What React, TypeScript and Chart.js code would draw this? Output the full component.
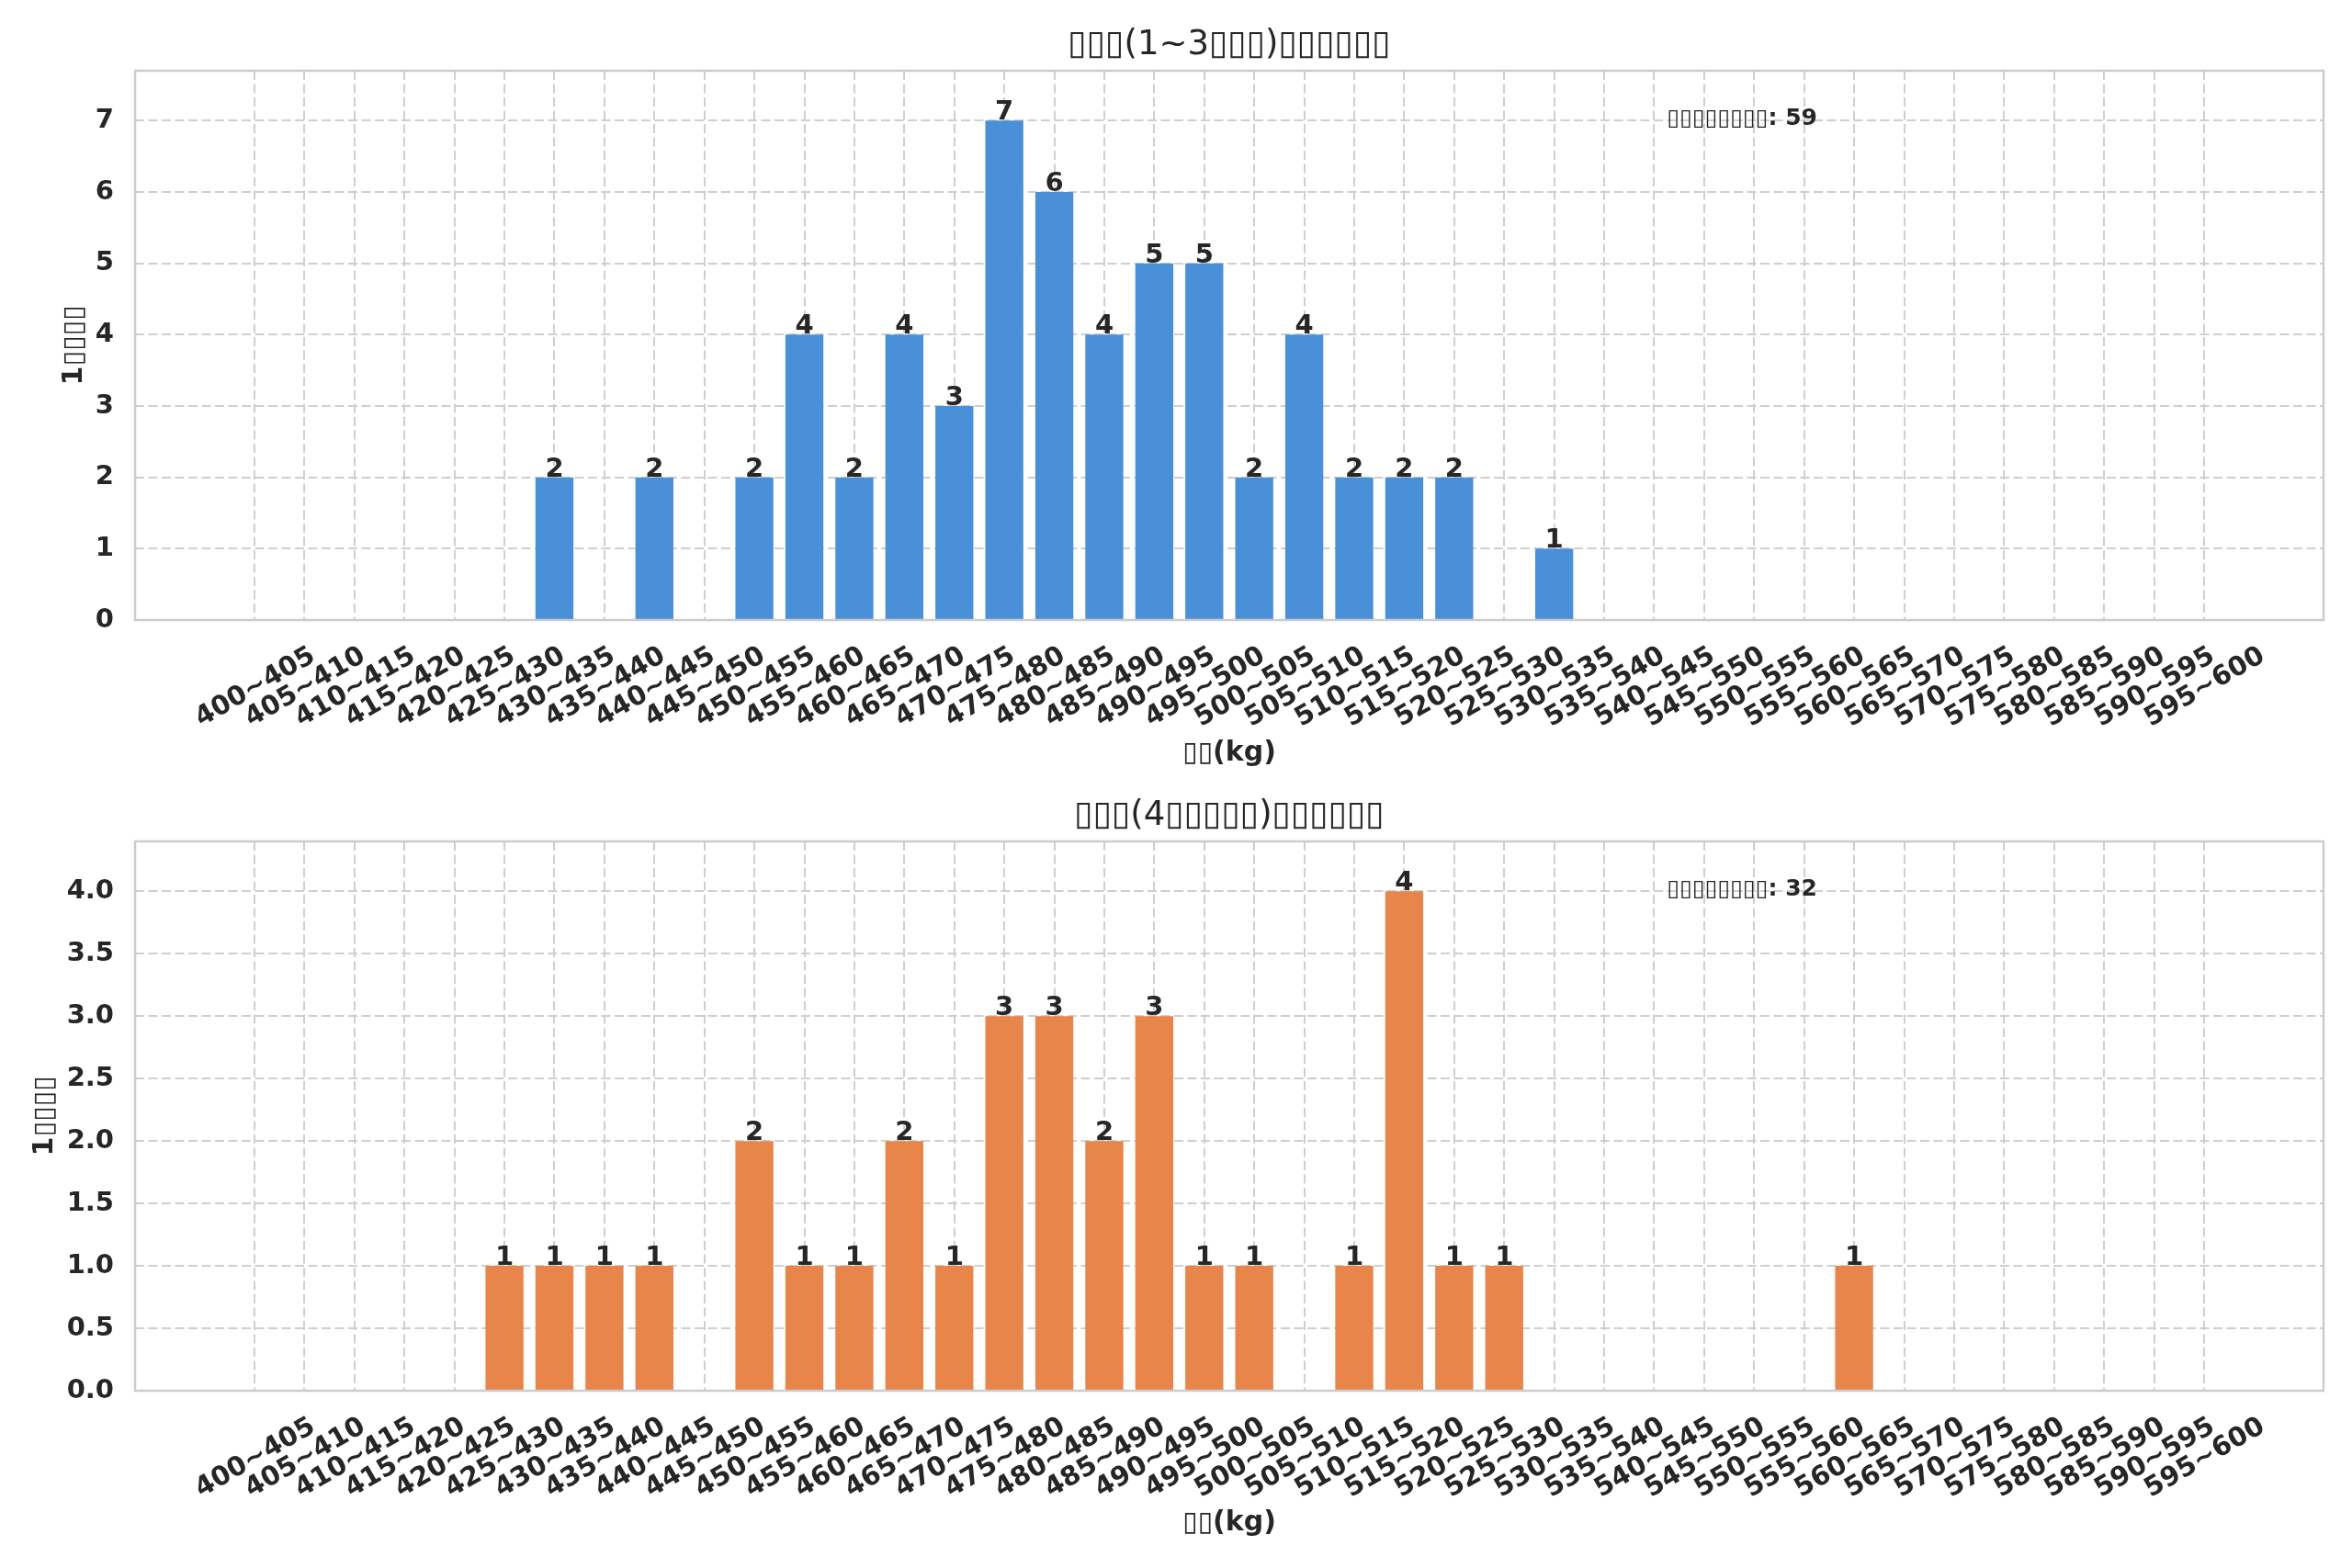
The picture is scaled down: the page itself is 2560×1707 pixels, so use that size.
import { useEffect, useRef } from "react";
import { Chart, registerables } from "chart.js";

Chart.register(...registerables);

const FONT = "'DejaVu Sans', sans-serif";
const TEXT = "#262626";
const GRID = "#cfcfcf";

// 5kg bins
const weightBins = [
  "400~405", "405~410", "410~415", "415~420", "420~425", "425~430",
  "430~435", "435~440", "440~445", "445~450", "450~455", "455~460",
  "460~465", "465~470", "470~475", "475~480", "480~485", "485~490",
  "490~495", "495~500", "500~505", "505~510", "510~515", "515~520",
  "520~525", "525~530", "530~535", "535~540", "540~545", "545~550",
  "550~555", "555~560", "560~565", "565~570", "570~575", "575~580",
  "580~585", "585~590", "590~595", "595~600",
];

const countsYoung = [
  0, 0, 0, 0, 0, 0, 2, 0, 2, 0, 2, 4, 2, 4, 3, 7, 6, 4, 5, 5,
  2, 4, 2, 2, 2, 0, 1, 0, 0, 0, 0, 0, 0, 0, 0, 0, 0, 0, 0, 0,
];

const countsOld = [
  0, 0, 0, 0, 0, 1, 1, 1, 1, 0, 2, 1, 1, 2, 1, 3, 3, 2, 3, 1,
  1, 0, 1, 4, 1, 1, 0, 0, 0, 0, 0, 0, 1, 0, 0, 0, 0, 0, 0, 0,
];

const titleYoung = "\u25AF\u25AF\u25AF(1~3\u25AF\u25AF\u25AF)\u25AF\u25AF\u25AF\u25AF\u25AF\u25AF";
const titleOld = "\u25AF\u25AF\u25AF(4\u25AF\u25AF\u25AF\u25AF\u25AF)\u25AF\u25AF\u25AF\u25AF\u25AF\u25AF";
const yTitle = "1\u25AF\u25AF\u25AF\u25AF";
const xTitle = "\u25AF\u25AF(kg)";
const totalLabel = "\u25AF\u25AF\u25AF\u25AF\u25AF\u25AF\u25AF\u25AF";

interface PanelProps {
  title: string;
  counts: number[];
  color: string;
  yMax: number;
  yStep: number;
  yDecimals: number;
  yTitlePad: number;
  height: number;
  xAxisHeight: number;
  xTitlePad: number;
}

function HistogramPanel(props: PanelProps) {
  const canvasRef = useRef<HTMLCanvasElement>(null);

  useEffect(() => {
    const ctx = canvasRef.current?.getContext("2d");
    if (!ctx) return;
    const { counts } = props;
    const total = counts.reduce((a, b) => a + b, 0);
    const tickFont = { family: FONT, size: 29, weight: "bold" as const, lineHeight: 1.2 };
    const axisTitleFont = { family: FONT, size: 30, weight: "bold" as const, lineHeight: 1.2 };

    const overlay = {
      id: "overlay",
      afterDatasetsDraw(chart: Chart) {
        const c = chart.ctx;
        const a = chart.chartArea;
        c.save();
        c.strokeStyle = "#cccccc";
        c.lineWidth = 2.5;
        c.strokeRect(a.left, a.top, a.right - a.left, a.bottom - a.top);

        c.fillStyle = TEXT;
        c.font = `bold 29px ${FONT}`;
        c.textAlign = "center";
        c.textBaseline = "alphabetic";
        chart.getDatasetMeta(0).data.forEach((bar: any, i: number) => {
          if (counts[i] > 0) c.fillText(String(counts[i]), bar.x, bar.y - 1);
        });

        c.font = `bold 25px ${FONT}`;
        c.textAlign = "left";
        c.textBaseline = "middle";
        c.fillText(
          `${totalLabel}: ${total}`,
          a.left + 0.7 * (a.right - a.left),
          a.top + 0.087 * (a.bottom - a.top),
        );

        c.font = `37px ${FONT}`;
        c.textAlign = "center";
        c.fillText(props.title, (a.left + a.right) / 2, 49.5);
        c.restore();
      },
    };

    const chart = new Chart(ctx, {
      type: "bar",
      data: {
        datasets: [
          {
            data: counts.map((v, i) => ({ x: i, y: v })),
            backgroundColor: props.color,
            borderWidth: 0,
            categoryPercentage: 1,
            barPercentage: 0.76,
          },
        ],
      },
      options: {
        responsive: false,
        animation: false,
        devicePixelRatio: 1,
        layout: { padding: { top: 77, right: 31, left: 0, bottom: 0 } },
        plugins: {
          legend: { display: false },
          tooltip: { enabled: false },
          title: { display: false },
        },
        scales: {
          x: {
            type: "linear",
            offset: false,
            min: -2.39,
            max: 41.39,
            afterBuildTicks: (s: any) => {
              s.ticks = weightBins.map((_, i) => ({ value: i }));
            },
            afterFit: (s: any) => {
              s.height = props.xAxisHeight;
            },
            ticks: {
              autoSkip: false,
              minRotation: 30,
              maxRotation: 30,
              labelOffset: 64,
              padding: 22,
              color: TEXT,
              font: tickFont,
              callback: (v: any) => weightBins[v] ?? "",
            },
            grid: { color: GRID, lineWidth: 2, drawTicks: false, offset: false },
            border: { display: false, dash: [10, 4.5] },
            title: {
              display: true,
              text: xTitle,
              color: TEXT,
              font: axisTitleFont,
              padding: { top: 0, bottom: props.xTitlePad },
            },
          },
          y: {
            min: 0,
            max: props.yMax,
            afterFit: (s: any) => {
              s.width = 147;
            },
            ticks: {
              stepSize: props.yStep,
              includeBounds: false,
              padding: 23,
              color: TEXT,
              font: tickFont,
              callback: (v: any) => Number(v).toFixed(props.yDecimals),
            },
            grid: { color: GRID, lineWidth: 2, drawTicks: false },
            border: { display: false, dash: [10, 4.5] },
            title: {
              display: true,
              text: yTitle,
              color: TEXT,
              font: axisTitleFont,
              padding: { top: props.yTitlePad, bottom: 0 },
            },
          },
        },
      },
      plugins: [overlay],
    });

    return () => chart.destroy();
  }, []);

  return (
    <canvas
      ref={canvasRef}
      width={2560}
      height={props.height}
      style={{ display: "block" }}
    />
  );
}

export default function App() {
  useEffect(() => {
    document.body.style.margin = "0";
    document.body.style.background = "#ffffff";
  }, []);

  return (
    <div style={{ width: 2560, height: 1707, background: "#ffffff" }}>
      <HistogramPanel
        title={titleYoung}
        counts={countsYoung}
        color="#4a90d9"
        yMax={7.7}
        yStep={1}
        yDecimals={0}
        yTitlePad={63}
        height={839}
        xAxisHeight={164}
        xTitlePad={1}
      />
      <HistogramPanel
        title={titleOld}
        counts={countsOld}
        color="#e8854a"
        yMax={4.4}
        yStep={0.5}
        yDecimals={1}
        yTitlePad={31}
        height={868}
        xAxisHeight={193}
        xTitlePad={31}
      />
    </div>
  );
}
